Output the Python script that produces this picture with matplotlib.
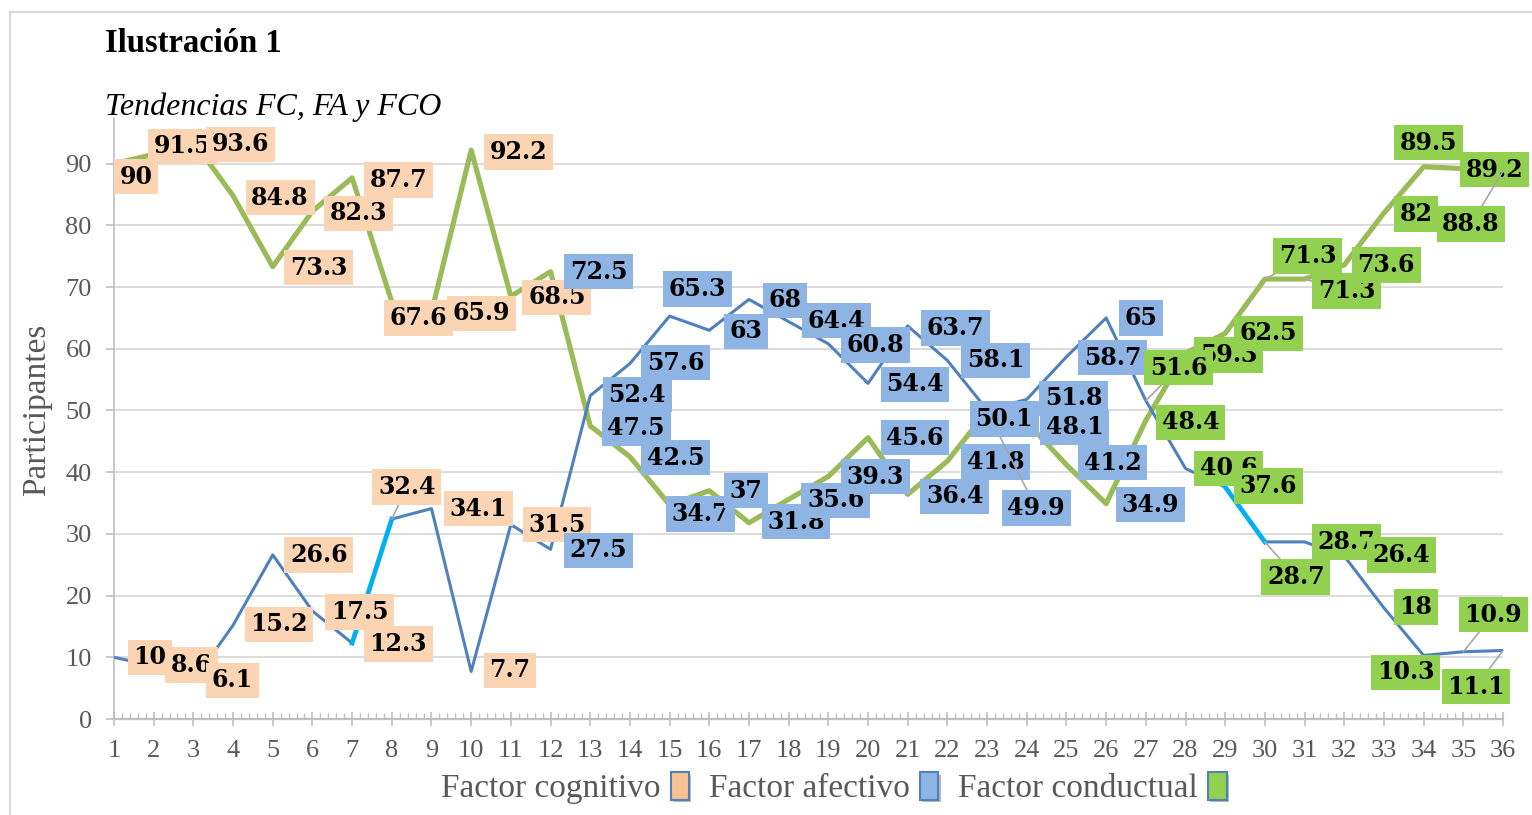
import numpy as np
import matplotlib
matplotlib.use("Agg")
import matplotlib.pyplot as plt
from matplotlib.patches import Patch, Rectangle
from matplotlib.ticker import MultipleLocator
import matplotlib.patheffects as pe

# ---------------- data ----------------
x = np.arange(1, 37)
serie_verde = [90, 91.5, 93.6, 84.8, 73.3, 82.3, 87.7, 67.6, 65.9, 92.2, 68.5, 72.5,
               47.5, 42.5, 34.7, 37, 31.8, 35.6, 39.3, 45.6, 36.4, 41.8, 49.9, 48.1,
               41.2, 34.9, 48.4, 59.3, 62.5, 71.3, 71.3, 73.6, 82, 89.5, 89.2, 88.8]
serie_azul = [10, 8.6, 6.1, 15.2, 26.6, 17.5, 12.3, 32.4, 34.1, 7.7, 31.5, 27.5,
              52.4, 57.6, 65.3, 63, 68, 64.4, 60.8, 54.4, 63.7, 58.1, 50.1, 51.8,
              58.7, 65, 51.6, 40.6, 37.6, 28.7, 28.7, 26.4, 18, 10.3, 10.9, 11.1]
factores = ["Factor cognitivo", "Factor afectivo", "Factor conductual"]
# number of consecutive points belonging to each factor
puntos_por_factor = [11, 15, 10]
yticks = list(range(0, 91, 10))

# ---------------- styles / layout ----------------
col_verde = "#9BBB59"
col_azul = "#4F81BD"
col_resalte = "#00B0F0"
box_cols = ["#FBD4B4", "#8EB4E3", "#92D050"]
legend_cols = ["#FAC090", "#8DB4E2", "#92D050"]
resaltados = [(6, 7), (28, 29)]  # highlighted segments of blue line (indices)

off_verde = [(22, -13), (29, 8), (47, -3), (47, -2), (46, -1), (46, -2), (46, -2), (27, -16),
             (50, -1), (47, -2), (46, -1), (48, 0), (46, -2), (46, -1), (31, -9), (37, 0),
             (47, 1), (47, -1), (47, 0), (47, 0), (47, -2), (48, -1), (49, -97), (48, -5),
             (46, 2), (44, -1), (45, -2), (43, -2), (43, 0), (43, 23), (42, -12), (42, 0),
             (32, -1), (5, 24), (31, -1), (-32, -53)]
off_azul = [(36, 0), (38, 1), (39, 1), (46, 1), (46, 0), (47, -1), (46, -1), (15, 32),
            (47, 0), (39, 1), (46, 0), (48, -1), (47, 1), (46, 1), (28, 27), (37, -1),
            (36, -1), (48, 1), (47, -1), (47, -1), (48, -2), (48, 0), (17, -9), (47, 1),
            (46, -1), (35, 0), (33, 33), (43, 0), (43, 1), (31, -35), (42, 0), (57, 1),
            (32, 1), (-18, -17), (30, 37), (-27, -36)]
guias_verde = {22, 29, 30, 35}
guias_azul = {7, 26, 29, 34, 35}

plt.rcParams["font.family"] = ["Liberation Serif", "DejaVu Serif"]
GRAY_TXT = "#595959"
AX_GRAY = "#BFBFBF"

W, H = 1532, 815
fig = plt.figure(figsize=(W / 100, H / 100), dpi=100)
ax = fig.add_axes([114 / W, 1 - 719 / H, (1503 - 114) / W, (719 - 118) / H])

# lines
ax.plot(x, serie_verde, color=col_verde, lw=3.7, zorder=3)
ax.plot(x, serie_azul, color=col_azul, lw=2.2, zorder=3)
for i, j in resaltados:
    ax.plot(x[i:j + 1], serie_azul[i:j + 1], color=col_resalte, lw=3.4, zorder=3.5)

# box colour per point
grupo = np.repeat(np.arange(len(puntos_por_factor)), puntos_por_factor)


def etiquetas(vals, offs, guias):
    for i, (v, (dx, dy)) in enumerate(zip(vals, offs)):
        kw = {}
        if i in guias:
            kw["arrowprops"] = dict(arrowstyle="-", color="#A6A6A6", lw=1.2,
                                    shrinkA=0, shrinkB=0)
        ax.annotate(f"{v:g}", xy=(x[i], v), xytext=(dx, dy), textcoords="offset pixels",
                    ha="center", va="center", fontsize=17, fontweight="bold",
                    family="DejaVu Serif", color="black",
                    bbox=dict(boxstyle="square,pad=0.24", fc=box_cols[grupo[i]], ec="none"),
                    zorder=5, annotation_clip=False, **kw)


etiquetas(serie_verde, off_verde, guias_verde)
etiquetas(serie_azul, off_azul, guias_azul)

# axes
ax.set_xlim(1, 36)
ax.set_ylim(0, 97.4)
ax.set_xticks(x)
ax.set_yticks(yticks)
ax.xaxis.set_minor_locator(MultipleLocator(0.2))
ax.grid(axis="y", color="#D9D9D9", lw=1.3)
ax.set_axisbelow(True)
for s in ["top", "right"]:
    ax.spines[s].set_visible(False)
ax.spines["left"].set_color(AX_GRAY)
ax.spines["left"].set_linewidth(1.2)
ax.spines["bottom"].set_color(AX_GRAY)
ax.spines["bottom"].set_linewidth(1.6)
ax.tick_params(axis="y", direction="out", length=6, width=1.2, color=AX_GRAY,
               labelsize=19, labelcolor=GRAY_TXT, pad=10)
ax.tick_params(axis="x", which="major", direction="inout", length=10, width=1.2,
               color=AX_GRAY, labelsize=19, labelcolor=GRAY_TXT, pad=10)
ax.tick_params(axis="x", which="minor", direction="in", length=4, width=1,
               color=AX_GRAY)

# texts
fig.text(105 / W, 1 - 43 / H, "Ilustración 1", fontsize=23.5, fontweight="bold",
         ha="left", va="center", color="black")
fig.text(105 / W, 1 - 107 / H, "Tendencias FC, FA y FCO", fontsize=23, style="italic",
         ha="left", va="center", color="black")
fig.text(37 / W, 1 - 410 / H, "Participantes", fontsize=24, rotation=90,
         ha="center", va="center", color=GRAY_TXT)

# legend
handles = [Patch(facecolor=c, edgecolor=col_azul, lw=1.5,
                 path_effects=[pe.SimplePatchShadow(offset=(1.5, -2), alpha=0.35), pe.Normal()])
           for c in legend_cols]
fig.legend(handles, factores, loc="center", bbox_to_anchor=(834 / W, 1 - 788 / H),
           ncol=3, frameon=False, markerfirst=False, handlelength=0.55, handleheight=0.9,
           handletextpad=0.3, columnspacing=0.6,
           prop={"family": "Liberation Serif", "size": 24}, labelcolor=GRAY_TXT)

# chart border
fig.add_artist(Rectangle((10 / W, -0.1), 2, 0.1 + 1 - 12 / H, transform=fig.transFigure,
                         fill=False, ec="#D9D9D9", lw=1.5))

fig.savefig("out.png", dpi=100)
